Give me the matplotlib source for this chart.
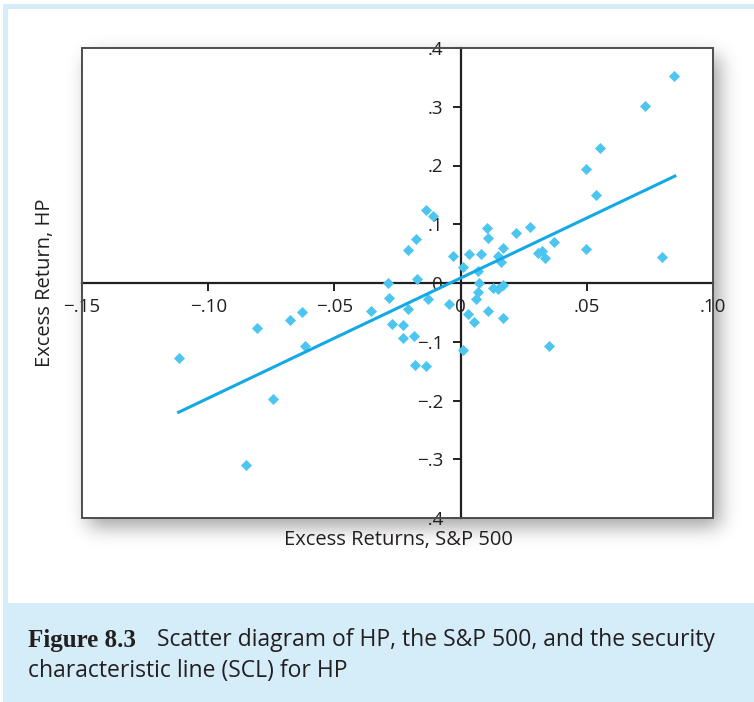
import math
import numpy as np
import matplotlib
matplotlib.use('Agg')
import matplotlib.pyplot as plt
from matplotlib.patches import Rectangle

# excess returns (S&P 500 on x, HP on y)
sp500 = [0.0845, 0.0729, 0.0552, 0.0497, 0.0538, 0.0497, 0.0799, 0.0371,
         0.0275, 0.0220, 0.0306, 0.0321, 0.0333, 0.0103, 0.0110, 0.0168,
         0.0148, 0.0160, 0.0081, 0.0034, -0.0031, 0.0010, 0.0070, 0.0074,
         0.0129, 0.0149, 0.0168, 0.0070, 0.0060, 0.0110, 0.0031, 0.0055,
         0.0168, -0.0045, 0.0010, 0.0349, -0.0137, -0.0108, -0.0175, -0.0210,
         -0.0172, -0.0289, -0.0285, -0.0131, -0.0210, -0.0356, -0.0271, -0.0227,
         -0.0227, -0.0184, -0.0179, -0.0137, -0.0629, -0.0675, -0.0617, -0.0806,
         -0.1117, -0.0742, -0.0852]
hp = [0.352, 0.302, 0.230, 0.194, 0.150, 0.058, 0.045, 0.070,
      0.096, 0.085, 0.051, 0.054, 0.043, 0.094, 0.076, 0.060,
      0.046, 0.035, 0.050, 0.050, 0.046, 0.027, 0.020, 0.000,
      -0.008, -0.010, -0.004, -0.016, -0.028, -0.047, -0.053, -0.066,
      -0.060, -0.036, -0.114, -0.107, 0.125, 0.114, 0.075, 0.056,
      0.007, 0.000, -0.026, -0.028, -0.044, -0.047, -0.069, -0.071,
      -0.093, -0.091, -0.140, -0.142, -0.049, -0.063, -0.108, -0.076,
      -0.128, -0.198, -0.310]

# security characteristic line (end points)
scl_x = [-0.1117, 0.0849]
scl_y = [-0.220, 0.182]

x_ticks = [-0.15, -0.10, -0.05, 0, 0.05, 0.10]
x_labels = ['\u2212.15', '\u2212.10', '\u2212.05', '0', '.05', '.10']
y_ticks = [-0.4, -0.3, -0.2, -0.1, 0, 0.1, 0.2, 0.3, 0.4]
y_labels = ['\u2212.4', '\u2212.3', '\u2212.2', '\u2212.1', '0', '.1', '.2', '.3', '.4']

W, H = 754, 702
box = (82, 48, 713, 518)  # plot box in pixels: left, top, right, bottom
ink = '#231f20'
pale = '#d5ecf9'

plt.rcParams['font.family'] = ['Open Sans', 'DejaVu Sans']
fig = plt.figure(figsize=(W / 100, H / 100), dpi=100)

# background: pale blue frame, white panel, caption band
bg = fig.add_axes([0, 0, 1, 1], zorder=0)
bg.axis('off')
bg.add_patch(Rectangle((3, 4), W - 3, H - 4, color=pale, lw=0))
bg.add_patch(Rectangle((8, 9), W - 8, 594, color='white', lw=0))


# soft drop shadow behind the plot box
def blur(n, a, b, s):
    return np.array([0.5 * (math.erf((i - a) / s) - math.erf((i - b) / s)) for i in range(n)])


sx = blur(W, box[0] + 6, box[2] + 6, 14)
sy = blur(H, box[1] + 8, box[3] + 8, 14)
shade = np.zeros((H, W, 4))
shade[..., 3] = 0.38 * np.outer(sy, sx)
bg.imshow(shade, extent=(0, W, H, 0), aspect='auto', zorder=2)
bg.set_xlim(0, W)
bg.set_ylim(H, 0)

bg.text(28, 640, 'Figure 8.3', family='Liberation Serif', weight='bold',
        fontsize=18, va='center', color=ink)
bg.text(157, 640, 'Scatter diagram of HP, the S&P 500, and the security',
        fontsize=16.5, va='center', color=ink)
bg.text(28, 671, 'characteristic line (SCL) for HP', fontsize=16.5, va='center', color=ink)

# main plot
ax = fig.add_axes([box[0] / W, (H - box[3]) / H, (box[2] - box[0]) / W, (box[3] - box[1]) / H],
                  zorder=1)
ax.set_facecolor('white')
ax.set_xlim(-0.15, 0.10)
ax.set_ylim(-0.4, 0.4)

ax.spines['top'].set_visible(False)
ax.spines['right'].set_visible(False)
for side in ['left', 'bottom']:
    ax.spines[side].set_position(('data', 0))
    ax.spines[side].set_linewidth(1.6)
    ax.spines[side].set_color(ink)
ax.add_patch(Rectangle((0, 0), 1, 1, transform=ax.transAxes, fill=False,
                       ec='#4d4d4d', lw=1.4, clip_on=False, zorder=5))

ax.set_xticks(x_ticks)
ax.set_xticklabels(x_labels)
ax.set_yticks(y_ticks)
ax.set_yticklabels(y_labels)
ax.tick_params(direction='out', length=6, width=1.4, color=ink,
               labelsize=13.5, labelcolor=ink)
ax.tick_params(axis='x', pad=5)
ax.tick_params(axis='y', pad=6.5)

ax.scatter(sp500, hp, marker='D', s=32, color='#4cc6f0', lw=0, zorder=3)
ax.plot(scl_x, scl_y, color='#12a9e4', lw=2.2, zorder=4)

ax.text(0.5008, -0.047, 'Excess Returns, S&P 500', transform=ax.transAxes,
        ha='center', va='center', fontsize=14.5, color=ink)
ax.text(-0.058, 0.5, 'Excess Return, HP', transform=ax.transAxes, rotation=90,
        ha='center', va='center', fontsize=14.5, color=ink)

fig.savefig('out.png', dpi=100)
